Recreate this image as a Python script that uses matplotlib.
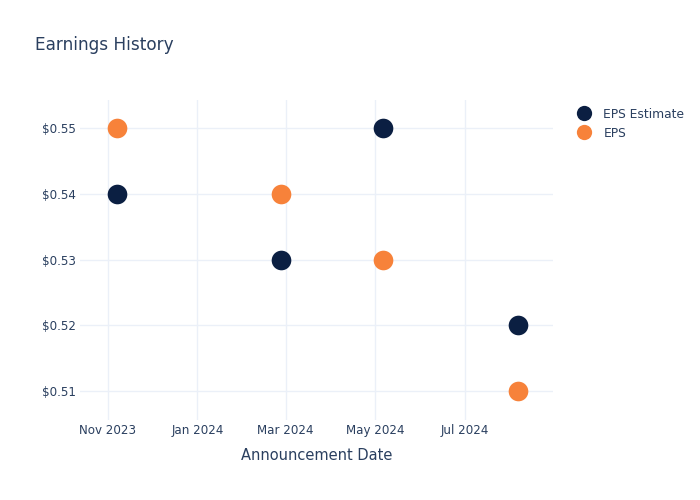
import numpy as np
import matplotlib.pyplot as plt
from matplotlib.lines import Line2D

# data
dates = np.array(['2023-11-07', '2024-02-27', '2024-05-06', '2024-08-06'], dtype='datetime64[D]')
eps_estimate = [0.54, 0.53, 0.55, 0.52]
eps_actual = [0.55, 0.54, 0.53, 0.51]
tick_dates = np.array(['2023-11-01', '2024-01-01', '2024-03-01', '2024-05-01', '2024-07-01'], dtype='datetime64[D]')
tick_labels = ['Nov 2023', 'Jan 2024', 'Mar 2024', 'May 2024', 'Jul 2024']
y_ticks = [0.51, 0.52, 0.53, 0.54, 0.55]

navy = '#0b1f42'
orange = '#f7823a'
txt = '#2a3f5f'
grid = '#ebf0f8'

fig = plt.figure(figsize=(7, 5), dpi=100)
ax = fig.add_axes([0.114, 0.16, 0.676, 0.64])

ax.scatter(dates, eps_estimate, s=200, color=navy, zorder=3, linewidths=0)
ax.scatter(dates, eps_actual, s=200, color=orange, zorder=3, linewidths=0)

ax.set_xlim(np.datetime64('2023-10-13'), np.datetime64('2024-08-30'))
ax.set_ylim(0.50559, 0.55426)
ax.set_xticks(tick_dates)
ax.set_xticklabels(tick_labels)
ax.set_yticks(y_ticks)
ax.set_yticklabels(['$%.2f' % v for v in y_ticks])
ax.tick_params(length=0, labelsize=8.6, labelcolor=txt)
ax.tick_params(axis='y', pad=3)
ax.tick_params(axis='x', pad=3)
ax.grid(True, color=grid, linewidth=1)
ax.set_axisbelow(True)
for s in ax.spines.values():
    s.set_visible(False)

ax.set_xlabel('Announcement Date', fontsize=10.5, color=txt, labelpad=8)
fig.text(0.05, 0.91, 'Earnings History', fontsize=12.2, color=txt, va='center')

handles = [Line2D([], [], marker='o', linestyle='', markersize=11, color=navy, markeredgewidth=0),
           Line2D([], [], marker='o', linestyle='', markersize=11, color=orange, markeredgewidth=0)]
leg = fig.legend(handles, ['EPS Estimate', 'EPS'], loc='upper left', bbox_to_anchor=(0.808, 0.807),
                 frameon=False, fontsize=8.8, handletextpad=1.0, labelspacing=0.5, handlelength=1.2)
for t in leg.get_texts():
    t.set_color(txt)

fig.savefig('out.png', dpi=100)
